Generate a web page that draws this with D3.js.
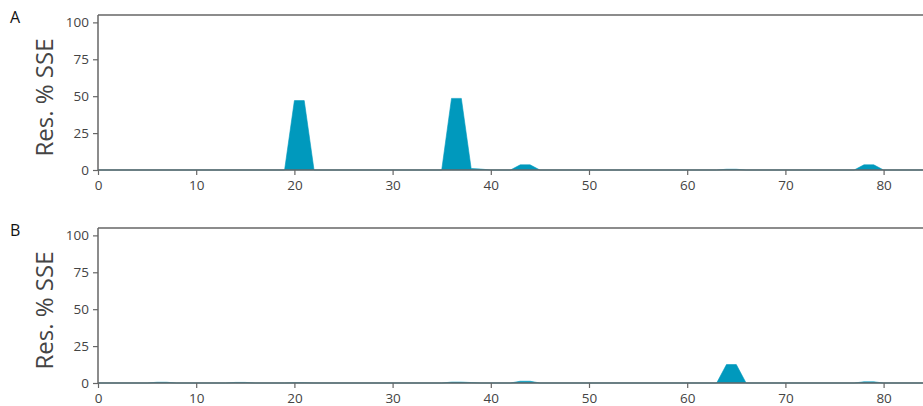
<!DOCTYPE html>
<html>
<head>
<meta charset="utf-8">
<script src="https://cdn.jsdelivr.net/npm/d3@7"></script>
<style>
  body { margin: 0; background: #fff; }
  text { font-family: "Open Sans", sans-serif; }
</style>
</head>
<body>
<div class="chart"></div>
<script>
// residue positions and residual % SSE (zeros only where the fill touches down)
var residuesA = [0, 19, 20, 21, 22, 35, 36, 37, 38, 39, 40, 42, 43, 44, 45, 63, 64, 65, 66, 77, 78, 79, 80, 84];
var valuesA   = [0, 0, 47, 47, 0, 0, 48.5, 48.5, 1, 0.6, 0, 0, 3.5, 3.5, 0, 0, 0.5, 0.5, 0, 0, 3.5, 3.5, 0, 0];

var residuesB = [0, 5, 6, 7, 8, 13, 14, 15, 16, 19, 20, 21, 22, 35, 36, 37, 38, 39, 42, 43, 44, 45, 63, 64, 65, 66, 77, 78, 79, 80, 84];
var valuesB   = [0, 0, 0.5, 0.5, 0, 0, 0.4, 0.4, 0, 0, 0.2, 0.2, 0, 0, 0.6, 0.6, 0.3, 0, 0, 1.2, 1.2, 0, 0, 12.5, 12.5, 0, 0, 0.8, 0.8, 0, 0];

var xTicks = [0, 10, 20, 30, 40, 50, 60, 70, 80];
var yTicks = [0, 25, 50, 75, 100];
var panelLabels = ["A", "B"];

var width = 923, height = 406;
var svg = d3.select(".chart").append("svg")
  .attr("width", width).attr("height", height)
  .style("background", "#fff");

var left = 98, right = 923;
var axisColor = "#666", tickText = "#444", fillColor = "#0099bd";

var x = d3.scaleLinear().domain([0, (right - left) / 9.82]).range([left, right]);

var panels = [
  { label: panelLabels[0], top: 15, bottom: 170, res: residuesA, vals: valuesA },
  { label: panelLabels[1], top: 228, bottom: 383, res: residuesB, vals: valuesB }
];

panels.forEach(function (p) {
  var y = d3.scaleLinear().domain([0, 105]).range([p.bottom, p.top]);
  var g = svg.append("g");

  var pts = p.res.map(function (r, i) { return [r, p.vals[i]]; });
  var area = d3.area()
    .x(function (d) { return x(d[0]); })
    .y0(y(0))
    .y1(function (d) { return y(d[1]); });
  g.append("path").datum(pts)
    .attr("d", area)
    .attr("fill", fillColor)
    .attr("stroke", fillColor)
    .attr("stroke-width", 0.6);

  // top spine
  g.append("line")
    .attr("x1", left).attr("x2", right)
    .attr("y1", p.top).attr("y2", p.top)
    .attr("stroke", axisColor).attr("stroke-width", 1.5);

  var xAxis = g.append("g")
    .attr("transform", "translate(0," + p.bottom + ")")
    .call(d3.axisBottom(x).tickValues(xTicks).tickSize(5).tickPadding(5).tickFormat(d3.format("d")));
  var yAxis = g.append("g")
    .attr("transform", "translate(" + left + ",0)")
    .call(d3.axisLeft(y).tickValues(yTicks).tickSize(5).tickPadding(4));

  [xAxis, yAxis].forEach(function (a) {
    a.select(".domain").attr("stroke", axisColor).attr("stroke-width", 1.5);
    a.selectAll(".tick line").attr("stroke", axisColor).attr("stroke-width", 1.2);
    a.selectAll(".tick text").attr("fill", tickText).style("font-size", "13.5px");
  });
  // keep the domains as plain lines
  yAxis.select(".domain").attr("d", "M0," + p.bottom + "V" + p.top);
  xAxis.select(".domain").attr("d", "M" + left + ",0H" + right);

  svg.append("text")
    .attr("transform", "translate(53," + ((p.top + p.bottom) / 2 + 5) + ") rotate(-90)")
    .attr("text-anchor", "middle")
    .attr("fill", "#444")
    .style("font-size", "24px")
    .text("Res. % SSE");

  svg.append("text")
    .attr("x", 10).attr("y", p.top + 8)
    .attr("fill", "#111")
    .style("font-size", "16px")
    .text(p.label);
});
</script>
</body>
</html>
